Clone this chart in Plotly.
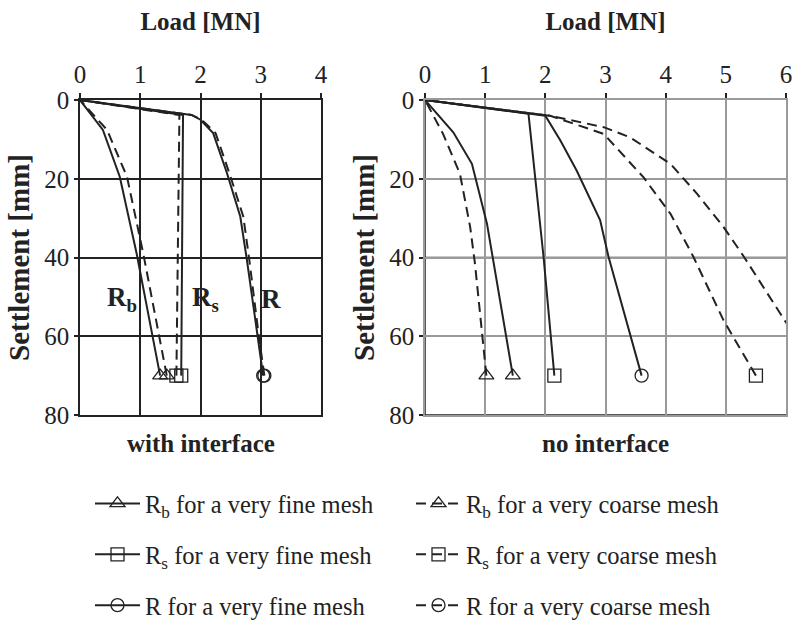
import plotly.graph_objects as go

# ---------------- data: "with interface" (left panel) ----------------
WI_RB_FINE_LOAD = [0, 0.38, 0.66, 0.94, 1.33]
WI_RB_FINE_SETT = [0, 7.6, 19.5, 39.0, 70]
WI_RB_COARSE_LOAD = [0, 0.45, 0.78, 1.05, 1.44]
WI_RB_COARSE_SETT = [0, 7.6, 19.5, 39.0, 70]
WI_RS_FINE_LOAD = [0, 1.71, 1.69, 1.68]
WI_RS_FINE_SETT = [0, 3.8, 40, 70]
WI_RS_COARSE_LOAD = [0, 1.65, 1.62, 1.60]
WI_RS_COARSE_SETT = [0, 3.8, 40, 70]
WI_R_FINE_LOAD = [0, 1.85, 2.0, 2.21, 2.44, 2.66, 2.77, 2.94, 3.04]
WI_R_FINE_SETT = [0, 3.8, 5.0, 8.4, 18.6, 29.6, 40.6, 59.0, 70]
WI_R_COARSE_LOAD = [0, 1.85, 2.02, 2.25, 2.48, 2.71, 2.81, 2.96, 3.06]
WI_R_COARSE_SETT = [0, 3.8, 5.0, 8.4, 18.6, 29.6, 40.6, 59.0, 70]

# ---------------- data: "no interface" (right panel) ----------------
NI_RB_FINE_LOAD = [0, 0.47, 0.78, 1.03, 1.14, 1.46]
NI_RB_FINE_SETT = [0, 8.2, 16.2, 31.4, 40.7, 70]
NI_RB_COARSE_LOAD = [0, 0.30, 0.58, 0.75, 0.83, 1.02]
NI_RB_COARSE_SETT = [0, 8.6, 18.7, 32.2, 41.5, 70]
NI_RS_FINE_LOAD = [0, 1.72, 1.97, 2.15]
NI_RS_FINE_SETT = [0, 3.5, 39.8, 70]
NI_RS_COARSE_LOAD = [0, 2.08, 2.97, 3.63, 4.08, 4.46, 4.96, 5.50]
NI_RS_COARSE_SETT = [0, 4.0, 8.6, 19.6, 28.9, 39.8, 55.9, 70]
NI_R_FINE_LOAD = [0, 2.0, 2.25, 2.52, 2.91, 3.05, 3.60]
NI_R_FINE_SETT = [0, 4.0, 10.3, 17.9, 30.5, 39.8, 70]
NI_R_COARSE_LOAD = [0, 2.08, 2.97, 3.41, 4.08, 4.52, 4.96, 5.30, 6.00, 6.80]
NI_R_COARSE_SETT = [0, 4.0, 6.9, 9.5, 16.2, 23.8, 32.2, 39.8, 56.5, 70]

LEFT_X_TICKS = [0, 1, 2, 3, 4]
RIGHT_X_TICKS = [0, 1, 2, 3, 4, 5, 6]
Y_TICKS = [0, 20, 40, 60, 80]

NAMES = {
    "rb_f": "R<sub>b</sub> for a very fine mesh",
    "rb_c": "R<sub>b</sub> for a very coarse mesh",
    "rs_f": "R<sub>s</sub> for a very fine mesh",
    "rs_c": "R<sub>s</sub> for a very coarse mesh",
    "r_f": "R for a very fine mesh",
    "r_c": "R for a very coarse mesh",
}

INK = "#222222"
SERIF = "Liberation Serif, Times New Roman, Times, serif"
DASH = "10px,6px"

fig = go.Figure()


def add_series(load, sett, key, symbol, dash, xa, ya, show, legend):
    # reverse so the marked end point is first (legend picks the first colour)
    xs = list(load)[::-1]
    ys = list(sett)[::-1]
    colors = [INK] + ["rgba(0,0,0,0)"] * (len(xs) - 1)
    fig.add_trace(go.Scatter(
        x=xs, y=ys, xaxis=xa, yaxis=ya,
        mode="lines+markers",
        name=NAMES[key], legendgroup=key, showlegend=show, legend=legend,
        line=dict(color=INK, width=2, dash=dash),
        marker=dict(symbol=symbol, size=13, color=colors,
                    line=dict(width=1.3, color=colors)),
    ))


series_left = [
    (WI_RB_FINE_LOAD, WI_RB_FINE_SETT, "rb_f", "triangle-up-open", "solid"),
    (WI_RB_COARSE_LOAD, WI_RB_COARSE_SETT, "rb_c", "triangle-up-open", DASH),
    (WI_RS_FINE_LOAD, WI_RS_FINE_SETT, "rs_f", "square-open", "solid"),
    (WI_RS_COARSE_LOAD, WI_RS_COARSE_SETT, "rs_c", "square-open", DASH),
    (WI_R_FINE_LOAD, WI_R_FINE_SETT, "r_f", "circle-open", "solid"),
    (WI_R_COARSE_LOAD, WI_R_COARSE_SETT, "r_c", "circle-open", DASH),
]
series_right = [
    (NI_RB_FINE_LOAD, NI_RB_FINE_SETT, "rb_f", "triangle-up-open", "solid"),
    (NI_RS_FINE_LOAD, NI_RS_FINE_SETT, "rs_f", "square-open", "solid"),
    (NI_R_FINE_LOAD, NI_R_FINE_SETT, "r_f", "circle-open", "solid"),
    (NI_RB_COARSE_LOAD, NI_RB_COARSE_SETT, "rb_c", "triangle-up-open", DASH),
    (NI_RS_COARSE_LOAD, NI_RS_COARSE_SETT, "rs_c", "square-open", DASH),
    (NI_R_COARSE_LOAD, NI_R_COARSE_SETT, "r_c", "circle-open", DASH),
]

for load, sett, key, sym, dash in series_left:
    add_series(load, sett, key, sym, dash, "x", "y", False, "legend")
for load, sett, key, sym, dash in series_right:
    leg = "legend" if key.endswith("_f") else "legend2"
    add_series(load, sett, key, sym, dash, "x2", "y2", True, leg)

tickfont = dict(family=SERIF, size=25, color=INK)
titlefont = dict(family=SERIF, size=25, color=INK)

common_x = dict(side="top", ticks="outside", ticklen=5, tickcolor=INK, tickwidth=1.5,
                tickfont=tickfont, showline=True, mirror=True, linewidth=1.5,
                zeroline=False, showgrid=True, gridwidth=1.5, automargin=False,
                title=dict(text="<b>Load [MN]</b>", font=titlefont, standoff=24))
common_y = dict(autorange=False, range=[80, 0], tickvals=Y_TICKS, ticks="outside", ticklen=4,
                tickcolor=INK, tickwidth=1.5, tickfont=tickfont, showline=True,
                mirror=True, linewidth=1.5, zeroline=False, showgrid=True,
                gridwidth=1.5, automargin=False,
                title=dict(text="<b>Settlement [mm]</b>",
                           font=dict(family=SERIF, size=29, color=INK), standoff=6))

legend_font = dict(family=SERIF, size=24.5, color=INK)

fig.update_layout(
    width=795, height=625,
    margin=dict(l=0, r=0, t=0, b=0, autoexpand=False),
    paper_bgcolor="white", plot_bgcolor="white",
    xaxis=dict(common_x, domain=[80 / 795, 321 / 795], range=[0, 4],
               tickvals=LEFT_X_TICKS, anchor="y", linecolor=INK, gridcolor=INK),
    yaxis=dict(common_y, domain=[1 - 415 / 625, 1 - 100 / 625], anchor="x",
               linecolor=INK, gridcolor=INK),
    xaxis2=dict(common_x, domain=[425 / 795, 786 / 795], range=[0, 6],
                tickvals=RIGHT_X_TICKS, anchor="y2", linecolor="#9a9a9a",
                gridcolor="#9a9a9a"),
    yaxis2=dict(common_y, domain=[1 - 415 / 625, 1 - 100 / 625], anchor="x2",
                linecolor="#9a9a9a", gridcolor="#9a9a9a"),
    legend=dict(x=90 / 795, y=1 - 481 / 625, xanchor="left", yanchor="top",
                font=legend_font, tracegroupgap=16, itemwidth=45,
                bgcolor="rgba(0,0,0,0)"),
    legend2=dict(x=411 / 795, y=1 - 481 / 625, xanchor="left", yanchor="top",
                 font=legend_font, tracegroupgap=16, itemwidth=45,
                 bgcolor="rgba(0,0,0,0)"),
    showlegend=True,
)

# darker reference lines on the right panel (left/bottom frame, x=1, y=40)
for xv in [0, 1]:
    fig.add_shape(type="line", xref="x2", yref="y2 domain", x0=xv, x1=xv, y0=0, y1=1,
                  line=dict(color=INK, width=1.5), layer="below")
fig.add_shape(type="line", xref="x2 domain", yref="y2", x0=0, x1=1, y0=40, y1=40,
              line=dict(color=INK, width=1.5), layer="below")
fig.add_shape(type="line", xref="x2 domain", yref="y2", x0=0, x1=1, y0=80, y1=80,
              line=dict(color=INK, width=1.5), layer="below")

# curve labels in the left panel
for txt, xv in [("R<sub>b</sub>", 0.70), ("R<sub>s</sub>", 2.08), ("R", 3.17)]:
    fig.add_annotation(x=xv, y=50.5, xref="x", yref="y", text=f"<b>{txt}</b>",
                       showarrow=False, font=dict(family=SERIF, size=27, color=INK))

# panel captions
fig.add_annotation(x=0.5, xref="x domain", y=1 - 443 / 625, yref="paper",
                   yanchor="middle", text="<b>with interface</b>", showarrow=False,
                   font=dict(family=SERIF, size=25, color=INK))
fig.add_annotation(x=0.5, xref="x2 domain", y=1 - 443 / 625, yref="paper",
                   yanchor="middle", text="<b>no interface</b>", showarrow=False,
                   font=dict(family=SERIF, size=25, color=INK))

fig.write_html("out.html")
